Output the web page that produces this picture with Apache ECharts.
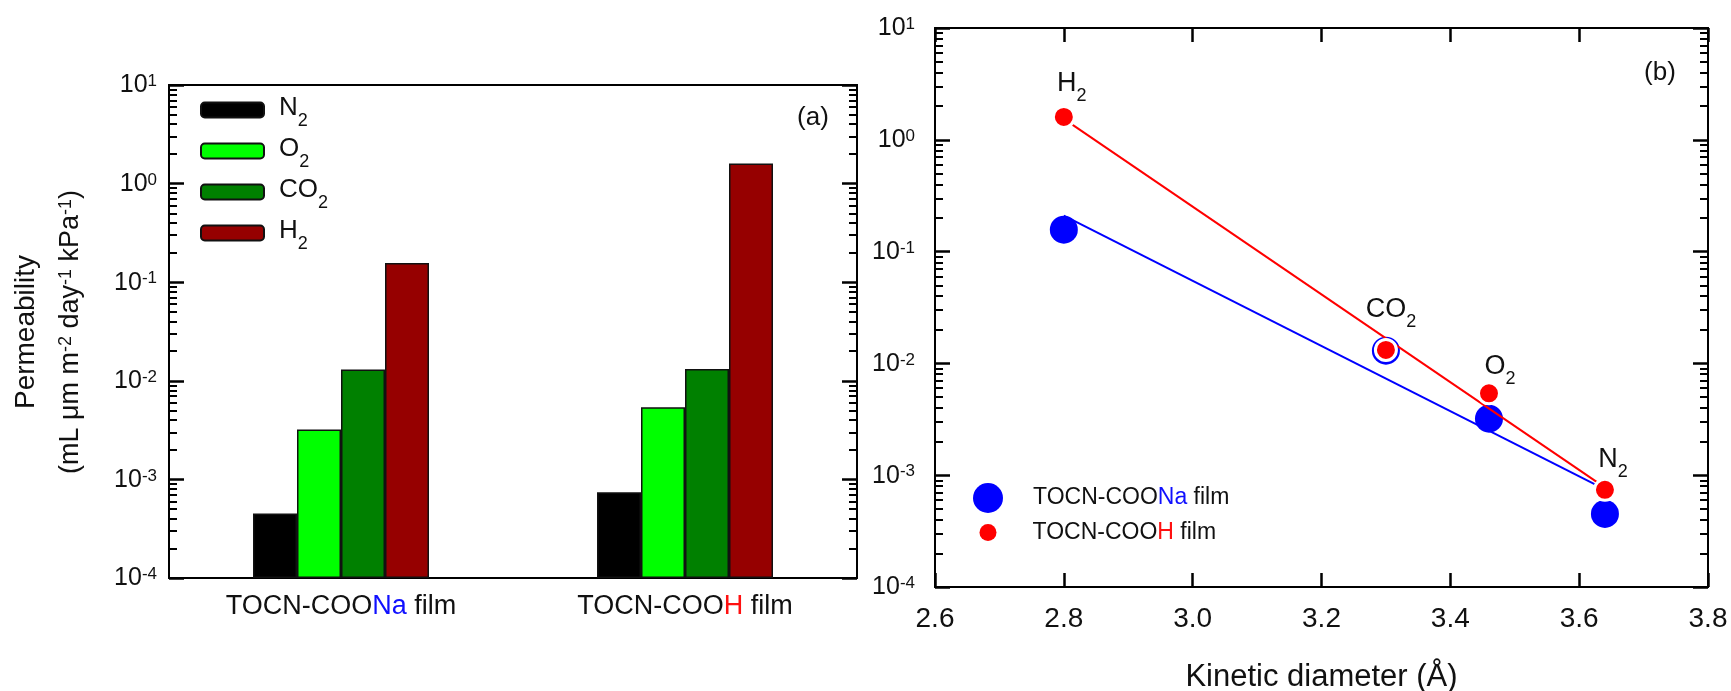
<!DOCTYPE html>
<html>
<head>
<meta charset="utf-8">
<script src="https://cdn.jsdelivr.net/npm/echarts@6/dist/echarts.min.js"></script>
<style>
  html, body { margin: 0; padding: 0; background: #fff; }
  #chart { width: 1731px; height: 691px; }
</style>
</head>
<body>
<div id="chart"></div>
<script>
// gas order everywhere: N2, O2, CO2, H2
const gases = ['N2', 'O2', 'CO2', 'H2'];
const films = ['TOCN-COONa film', 'TOCN-COOH film'];
const permNa = [0.00045, 0.0032, 0.013, 0.157];
const permH = [0.00074, 0.0054, 0.0132, 1.6];
const kineticDiam = [3.64, 3.46, 3.30, 2.80];
// fitted lines (end points)
const fitDiam = [2.8, 3.63];
const fitNa = [0.21, 0.0008];
const fitH = [1.54, 0.00085];
const decadeTicks = [1e-4, 1e-3, 1e-2, 1e-1, 1, 10];
const gasColors = ['#000000', '#00ff00', '#008000', '#960000'];
const gasLabelOffsets = [[8, -29], [11, -25], [5, -39], [8, -32]];

const minorTicks = [];
decadeTicks.slice(0, -1).forEach(d => {
  for (let k = 2; k <= 9; k++) minorTicks.push(+(d * k).toPrecision(3));
});

const FONT = '"Liberation Sans", Arial, sans-serif';
const INK = '#111';

const supRich = size => ({
  b: { fontSize: size, fontFamily: FONT, color: INK, lineHeight: 24, verticalAlign: 'top', padding: [0, 0, 14, 0] },
  e: { fontSize: Math.round(size * 0.66), fontFamily: FONT, color: INK, lineHeight: 10, verticalAlign: 'top' }
});
const tickLabel = v => `{b|10}{e|${Math.round(Math.log10(v))}}`;

const subRich = size => ({
  b: { fontSize: size, fontFamily: FONT, color: INK, lineHeight: 30, verticalAlign: 'top' },
  s: { fontSize: Math.round(size * 0.68), fontFamily: FONT, color: INK, lineHeight: 6, verticalAlign: 'top', padding: [17, 0, 0, 0] }
});
const chem = n => `{b|${n.slice(0, -1)}}{s|${n.slice(-1)}}`;

const filmRich = size => ({
  t: { fontSize: size, fontFamily: FONT, color: INK, lineHeight: 28 },
  na: { fontSize: size, fontFamily: FONT, color: '#1010ff', lineHeight: 28 },
  h: { fontSize: size, fontFamily: FONT, color: '#ff1010', lineHeight: 28 }
});
const filmLabel = f => f.replace(/^(TOCN-COO)(Na|H)( film)$/,
  (m, a, c, z) => `{t|${a}}{${c === 'Na' ? 'na' : 'h'}|${c}}{t|${z}}`);

// fresh objects for every axis
const frame = () => ({ show: true, onZero: false, lineStyle: { color: '#000', width: 2 } });
const tick = (length, width, values) => {
  const t = { show: true, inside: true, length, lineStyle: { color: '#000', width } };
  if (values) t.customValues = values.slice();
  return t;
};
const logAxis = (grid, position, ticks, label) => ({
  type: 'log', logBase: 10, gridIndex: grid, position, min: 1e-4, max: 10, startValue: 1e-4,
  axisLine: frame(), splitLine: { show: false }, minorTick: { show: false },
  axisTick: ticks, axisLabel: label || { show: false }
});
const logAxes = (grid, margin) => [
  logAxis(grid, 'left', tick(15, 2.5, decadeTicks),
    { customValues: decadeTicks.slice(), margin, formatter: tickLabel, rich: supRich(25) }),
  logAxis(grid, 'left', tick(8, 2, minorTicks)),
  logAxis(grid, 'right', tick(15, 2.5, decadeTicks)),
  logAxis(grid, 'right', tick(8, 2, minorTicks))
];
const diamAxis = (position, extra) => ({
  type: 'value', gridIndex: 1, position, min: 2.6, max: 3.8, interval: 0.2,
  axisLine: frame(), splitLine: { show: false }, axisTick: tick(14, 2.5),
  ...extra
});

const chart = echarts.init(document.getElementById('chart'));
chart.setOption({
  animation: false,
  grid: [
    { left: 169, top: 85, right: 874, bottom: 113, outerBoundsMode: 'none' },
    { left: 935, top: 28, right: 23, bottom: 104, outerBoundsMode: 'none' }
  ],
  xAxis: [
    { type: 'category', gridIndex: 0, data: films, position: 'bottom',
      axisLine: frame(), axisTick: { show: false },
      axisLabel: { margin: 15, formatter: filmLabel, rich: filmRich(27) } },
    { type: 'category', gridIndex: 0, data: films, position: 'top',
      axisLine: frame(), axisTick: { show: false }, axisLabel: { show: false } },
    diamAxis('bottom', {
      name: 'Kinetic diameter (Å)', nameLocation: 'middle', nameGap: 75,
      nameTextStyle: { fontSize: 31, fontFamily: FONT, color: INK },
      axisLabel: { margin: 18, fontSize: 28, fontFamily: FONT, color: INK, formatter: v => v.toFixed(1) }
    }),
    diamAxis('top', { axisLabel: { show: false } })
  ],
  yAxis: [...logAxes(0, 12), ...logAxes(1, 20)],
  legend: [
    { data: gases, orient: 'vertical', left: 200, top: 95, padding: 0,
      itemWidth: 63, itemHeight: 15, itemGap: 6,
      formatter: chem, textStyle: { padding: [0, 0, 0, 10], rich: subRich(26) } },
    { data: [{ name: films[0], icon: 'circle' }], left: 973, top: 483, padding: 0,
      itemWidth: 30, itemHeight: 30,
      formatter: filmLabel, textStyle: { padding: [0, 0, 0, 25], rich: filmRich(23) } },
    { data: [{ name: films[1], icon: 'circle' }], left: 979.5, top: 521, padding: 0,
      itemWidth: 17, itemHeight: 17, itemStyle: { borderWidth: 0 },
      formatter: filmLabel, textStyle: { padding: [0, 0, 0, 31], rich: filmRich(23) } }
  ],
  graphic: [
    { type: 'text', x: 813, y: 118, style: { text: '(a)', font: `26px ${FONT}`, fill: INK, align: 'center', verticalAlign: 'middle' } },
    { type: 'text', x: 1660, y: 73, style: { text: '(b)', font: `26px ${FONT}`, fill: INK, align: 'center', verticalAlign: 'middle' } },
    { type: 'text', x: 26, y: 332, rotation: Math.PI / 2,
      style: { text: 'Permeability', font: `28px ${FONT}`, fill: INK, align: 'center', verticalAlign: 'middle' } },
    { type: 'text', x: 72, y: 332, rotation: Math.PI / 2,
      style: {
        text: '{b|(mL μm m}{e|-2}{b| day}{e|-1}{b| kPa}{e|-1}{b|)}',
        align: 'center', verticalAlign: 'middle',
        rich: {
          b: { fontSize: 27, fontFamily: FONT, fill: INK, lineHeight: 30, verticalAlign: 'top' },
          e: { fontSize: 18, fontFamily: FONT, fill: INK, lineHeight: 12, verticalAlign: 'top' }
        }
      } }
  ],
  series: [
    ...gases.map((g, i) => ({
      name: g, type: 'bar', xAxisIndex: 0, yAxisIndex: 0,
      barWidth: 44, barGap: '0%',
      data: [permNa[i], permH[i]],
      itemStyle: { color: gasColors[i], borderColor: '#111', borderWidth: 1.5 }
    })),
    { name: 'fitNa', type: 'line', xAxisIndex: 2, yAxisIndex: 4, z: 2,
      data: fitDiam.map((x, i) => [x, fitNa[i]]), symbol: 'none',
      lineStyle: { color: '#0000ff', width: 2 } },
    { name: films[0], type: 'scatter', xAxisIndex: 2, yAxisIndex: 4, z: 3,
      data: kineticDiam.map((x, i) => [x, permNa[i]]), symbolSize: 28,
      itemStyle: { color: '#0000ff', opacity: 1 } },
    { name: 'fitH', type: 'line', xAxisIndex: 2, yAxisIndex: 4, z: 4,
      data: fitDiam.map((x, i) => [x, fitH[i]]), symbol: 'none',
      lineStyle: { color: '#ff0000', width: 2 } },
    { name: films[1], type: 'scatter', xAxisIndex: 2, yAxisIndex: 4, z: 5,
      data: kineticDiam.map((x, i) => ({ value: [x, permH[i]], label: { offset: gasLabelOffsets[i] } })),
      symbolSize: 21,
      itemStyle: { color: '#ff0000', borderColor: '#fff', borderWidth: 3, opacity: 1 },
      label: { show: true, position: 'inside', formatter: p => chem(gases[p.dataIndex]), rich: subRich(27) } }
  ]
});
</script>
</body>
</html>
